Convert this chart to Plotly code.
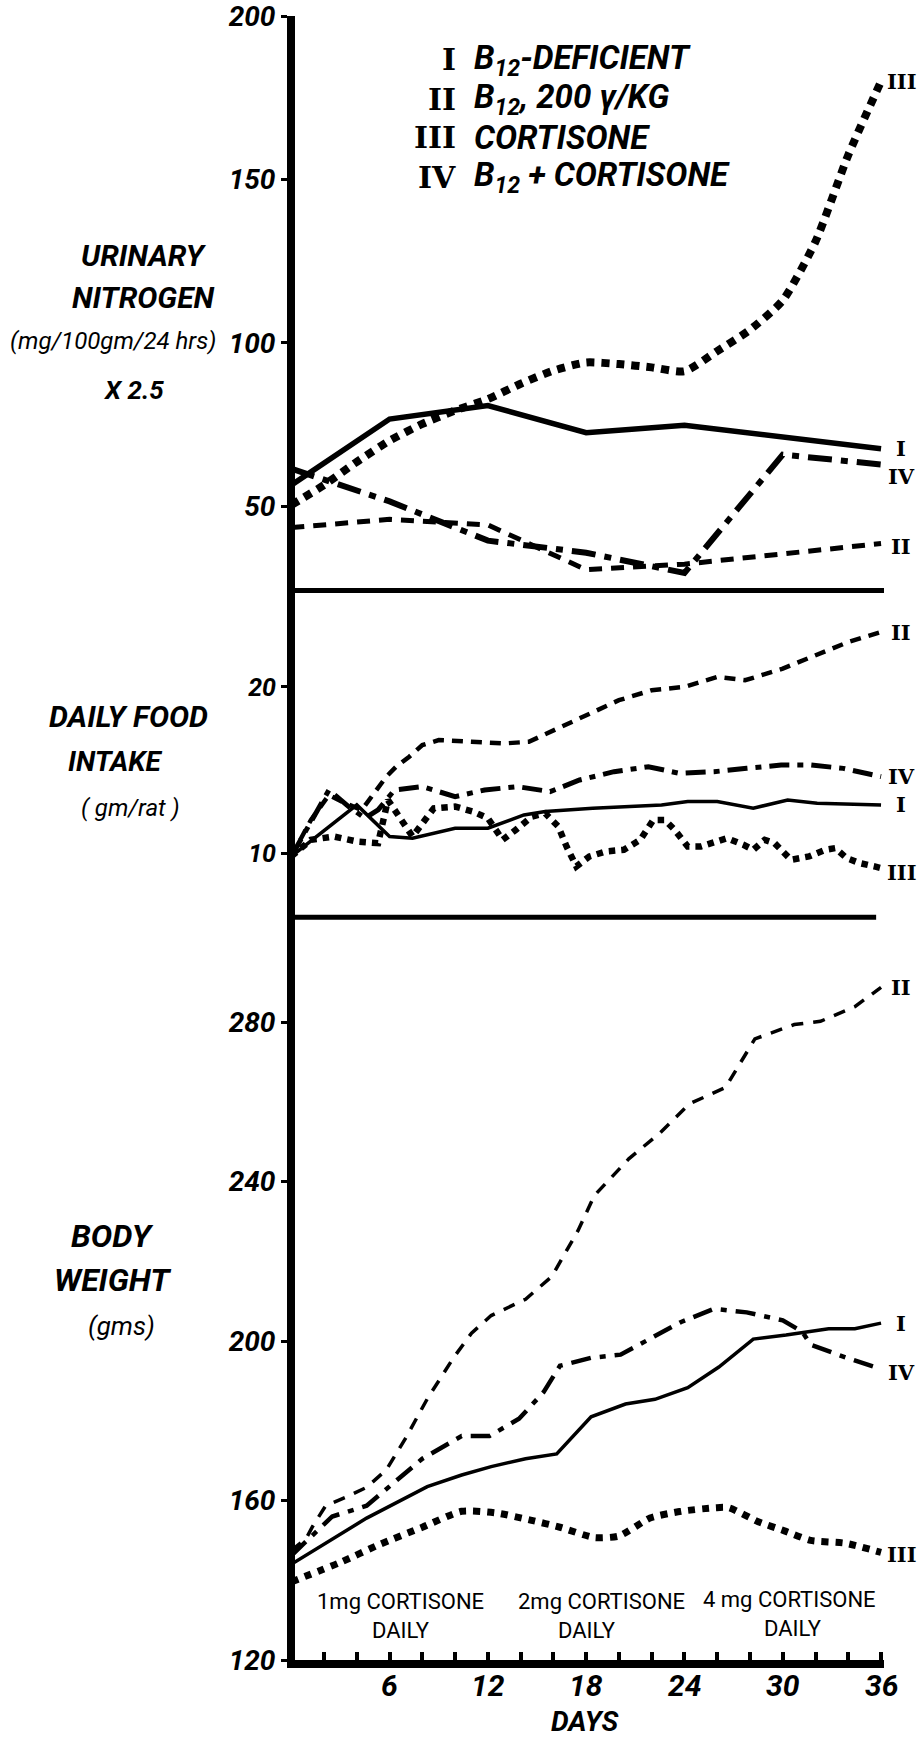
import plotly.graph_objects as go

# ---------------- data ----------------
# Urinary nitrogen (mg/100 gm/24 hrs x 2.5)
nit_days = [0, 6, 12, 18, 24, 30, 36]
nit_I = [56.5, 76.7, 80.8, 72.5, 74.8, 71.2, 67.6]
nit_II = [43.5, 46.0, 44.3, 30.6, 32.3, 35.3, 38.6]
nit_IV = [61.5, 51.5, 39.5, 35.8, 29.6, 65.8, 62.8]
nit_III_days = [0, 2, 4, 6, 8, 10, 12, 14, 16, 18, 20, 22, 24, 26, 28, 30, 32, 34, 36]
nit_III = [50.4, 56.5, 63.6, 70.1, 75.2, 79.3, 82.8, 87.5, 91.5, 94.0, 93.5, 92.5,
           91.3, 97.5, 104.0, 113.0, 131.0, 157.5, 180.0]

# Daily food intake (gm/rat)
food_I_days = [0, 4, 6, 7.4, 10, 12, 14.2, 15.5, 18.4, 22.6, 24.2, 26, 28.2, 30.3, 32.1, 36]
food_I = [9.8, 12.9, 11.0, 10.9, 11.5, 11.5, 12.3, 12.5, 12.7, 12.9, 13.1, 13.1, 12.7, 13.2, 13.0, 12.9]
food_II_days = [0, 1.2, 2.3, 3.3, 4.3, 5.2, 5.8, 6.4, 7.2, 8.0, 9, 11, 13, 14.5, 16, 18, 20,
                22, 24, 26, 27.7, 30, 32, 34, 36]
food_II = [9.8, 12.0, 13.5, 13.0, 12.6, 13.8, 14.6, 15.2, 15.8, 16.5, 16.8, 16.7, 16.6, 16.7,
           17.4, 18.3, 19.2, 19.8, 20.0, 20.6, 20.4, 21.1, 21.9, 22.7, 23.3]
food_III_days = [0, 1.2, 2.6, 4, 5.3, 5.9, 7.4, 8.7, 10, 11.1, 12, 12.9, 13.7, 14.7, 15.5, 16.3,
                 16.8, 17.4, 18.2, 19.2, 20.3, 21.3, 22.1, 22.8, 23.4, 24.2, 25, 25.8, 26.6, 27.6,
                 28.2, 28.9, 29.5, 30.5, 31.6, 32.6, 33.2, 33.9, 34.7, 35.6, 36]
food_III = [9.8, 10.8, 11.0, 10.7, 10.6, 13.2, 11.0, 12.7, 12.8, 12.5, 12.1, 10.8, 11.4, 12.2,
            12.4, 11.6, 10.4, 9.2, 9.8, 10.1, 10.2, 10.8, 12.0, 12.0, 11.4, 10.4, 10.4, 10.6,
            10.9, 10.5, 10.2, 10.8, 10.6, 9.6, 9.8, 10.2, 10.3, 9.7, 9.4, 9.2, 9.1]
food_IV_days = [0, 1, 2.3, 3.5, 4.5, 5.3, 6.3, 8, 10, 11.8, 13.8, 15.8, 17.6, 19.7, 21.8, 23.7,
                25.8, 27.8, 29.9, 31.7, 33.7, 36]
food_IV = [9.8, 11.5, 13.8, 12.8, 12.1, 12.6, 13.8, 14.0, 13.4, 13.8, 14.0, 13.7, 14.4, 14.9,
           15.2, 14.8, 14.9, 15.1, 15.3, 15.3, 15.1, 14.6]

# Body weight (gms)
wt_I_days = [0, 4.6, 8.3, 10.4, 12.2, 14.3, 16.2, 18.3, 20.4, 22.2, 24.2, 26.1, 28.2, 30.2, 32.8, 34.4, 36]
wt_I = [144.0, 155.6, 163.5, 166.4, 168.5, 170.5, 171.7, 181.0, 184.2, 185.4, 188.3, 193.5,
        200.5, 201.5, 203.1, 203.1, 204.5]
wt_II_days = [0, 0.9, 1.3, 2.1, 3.3, 4.6, 5.8, 7.0, 8.3, 9.9, 11.0, 12.2, 14.3, 15.9, 17.5, 18.5,
              20.6, 22.5, 24.3, 26.5, 28.3, 30.7, 32.3, 34.4, 36]
wt_II = [147.5, 150.4, 153.5, 158.7, 160.8, 163.3, 167.7, 175.8, 185.5, 195.8, 202.0, 206.4,
         210.5, 216.2, 227.7, 236.5, 245.7, 252.2, 259.5, 263.6, 275.8, 279.4, 280.2, 283.9, 288.7]
wt_III_days = [0, 3, 5.4, 8, 10.4, 12.5, 14.6, 16.4, 18.5, 20, 21.9, 23.8, 25.9, 26.7, 28.5,
               30.1, 31.7, 33.8, 36]
wt_III = [139.6, 144.5, 149.0, 153.3, 157.3, 156.9, 155.1, 153.3, 150.7, 151.1, 155.6, 157.3,
          158.2, 158.2, 154.7, 152.4, 150.0, 149.3, 147.0]
wt_IV_days = [0, 2.5, 4.6, 6.4, 8.0, 10.4, 12.1, 13.9, 15.4, 16.4, 18.3, 20.1, 22, 23.8, 25.8,
              27.8, 30, 31.2, 31.7, 33.9, 36]
wt_IV = [146.2, 156.0, 158.7, 164.8, 170.5, 176.2, 176.2, 180.5, 187.2, 193.8, 195.8, 196.6,
         200.7, 204.8, 208.1, 207.2, 205.2, 202.3, 199.1, 195.8, 193.0]

day_ticks = [6, 12, 18, 24, 30, 36]
nit_ticks = [50, 100, 150, 200]
food_ticks = [10, 20]
wt_ticks = [120, 160, 200, 240, 280]

legend_rows = [("I", "B<sub>12</sub>-DEFICIENT"),
               ("II", "B<sub>12</sub>, 200 γ/KG"),
               ("III", "CORTISONE"),
               ("IV", "B<sub>12</sub> + CORTISONE")]

# ---------------- page geometry ----------------
FW, FH = 924, 1738
L, R, T, B = 295, 884, 16, 1660


def px(x):
    return (x - L) / (R - L)


def py(y):
    return (B - y) / (B - T)


D1 = py(917.3)   # body weight / food intake boundary
D2 = py(590.5)   # food intake / nitrogen boundary

FONT = "Roboto, 'Open Sans', sans-serif"
NUM_FONT = "'DejaVu Serif', serif"

fig = go.Figure()


def add_line(x, y, panel, width, dash, shape="linear"):
    xa = "x" if panel == 1 else "x%d" % panel
    ya = "y" if panel == 1 else "y%d" % panel
    line = dict(color="black", width=width, dash=dash, shape=shape)
    if shape == "spline":
        line["smoothing"] = 0.6
    fig.add_trace(go.Scatter(x=x, y=y, xaxis=xa, yaxis=ya, mode="lines", line=line,
                             hoverinfo="skip", showlegend=False))


# nitrogen panel (top)
add_line(nit_days, nit_I, 3, 5.5, "solid")
add_line(nit_days, nit_II, 3, 5, "13px,9px")
add_line(nit_III_days, nit_III, 3, 8, "8px,7px", "spline")
add_line(nit_days, nit_IV, 3, 6, "24px,9px,7px,9px")

# food intake panel (middle)
add_line(food_I_days, food_I, 2, 3.5, "solid")
add_line(food_II_days, food_II, 2, 4.5, "11px,8px")
add_line(food_III_days, food_III, 2, 6.5, "6.5px,6px")
add_line(food_IV_days, food_IV, 2, 5, "20px,8px,6px,8px")

# body weight panel (bottom)
add_line(wt_I_days, wt_I, 1, 3.5, "solid")
add_line(wt_II_days, wt_II, 1, 3.5, "12px,10px")
add_line(wt_III_days, wt_III, 1, 7, "7px,7px", "spline")
add_line(wt_IV_days, wt_IV, 1, 4.5, "20px,9px,6px,9px")

tick_font = dict(family=FONT, size=28, color="black", weight="bold", style="italic")
y_common = dict(showline=True, linecolor="black", linewidth=8, ticks="outside", ticklen=6,
                tickwidth=3, tickcolor="black", showgrid=False, zeroline=False,
                ticklabelstandoff=0, ticklabeloverflow="allow", tickfont=tick_font)

fig.update_layout(
    width=FW, height=FH, template="none",
    margin=dict(l=L, r=FW - R, t=T, b=FH - B, pad=0),
    paper_bgcolor="white", plot_bgcolor="white", showlegend=False,
    xaxis=dict(domain=[0, 1], anchor="y", range=[0.226, 36.18], showline=True,
               linecolor="black", linewidth=8, ticks="inside", ticklen=8, tickwidth=3.5,
               tickcolor="black", tickvals=day_ticks, showticklabels=False,
               minor=dict(dtick=2, tick0=0, ticks="inside", ticklen=8, tickwidth=3.5,
                          tickcolor="black", showgrid=False),
               showgrid=False, zeroline=False),
    xaxis2=dict(anchor="y2", matches="x", visible=False),
    xaxis3=dict(anchor="y3", matches="x", visible=False),
    yaxis=dict(domain=[0, D1], range=[120, 306.3], tickvals=wt_ticks, **y_common),
    yaxis2=dict(domain=[D1, D2], range=[6.14, 25.8], tickvals=food_ticks, **y_common),
    yaxis3=dict(domain=[D2, 1], range=[24.24, 200], tickvals=nit_ticks, **y_common),
)
fig.update_layout(yaxis2_tickfont_size=25)

# panel separators
fig.add_shape(type="line", xref="x", yref="paper", x0=0, x1=36.18, y0=D2, y1=D2,
              line=dict(color="black", width=5))
fig.add_shape(type="line", xref="x", yref="paper", x0=0, x1=35.7, y0=D1, y1=D1,
              line=dict(color="black", width=5))

ann = []


def text(x, y, s, size, weight="normal", style="normal", xanchor="center", family=FONT):
    ann.append(dict(xref="paper", yref="paper", x=px(x), y=py(y), text=s, showarrow=False,
                    xanchor=xanchor, yanchor="middle",
                    font=dict(family=family, size=size, color="black", weight=weight, style=style)))


# day labels under the x axis
for d in day_ticks:
    ann.append(dict(xref="x", yref="paper", x=d, y=py(1685), text=str(d), showarrow=False,
                    xanchor="center", yanchor="middle",
                    font=dict(family=FONT, size=30, color="black", weight="bold", style="italic")))

# legend block
for i, (num, label) in enumerate(legend_rows):
    yy = 60 + i * 39
    text(458, yy, num, 30, "bold", "normal", "right", NUM_FONT)
    text(472, yy, label, 33, "bold", "italic", "left")

# left-hand titles
text(144, 255, "URINARY", 30, "bold", "italic")
text(143, 297, "NITROGEN", 30, "bold", "italic")
text(8, 341, "(mg/100gm/24 hrs)", 24, "normal", "italic", "left")
text(133, 390, "X 2.5", 26, "bold", "italic")
text(128, 716, "DAILY FOOD", 30, "bold", "italic")
text(115, 762, "INTAKE", 28, "bold", "italic")
text(130, 808, "( gm/rat )", 24, "normal", "italic")
text(112, 1236, "BODY", 32, "bold", "italic")
text(112, 1280, "WEIGHT", 32, "bold", "italic")
text(121, 1326, "(gms)", 26, "normal", "italic")

# dosing notes
text(400, 1601, "1mg CORTISONE", 22)
text(401, 1630, "DAILY", 22)
text(601, 1601, "2mg CORTISONE", 22)
text(587, 1630, "DAILY", 22)
text(789, 1599, "4 mg CORTISONE", 22)
text(793, 1628, "DAILY", 22)

text(584, 1721, "DAYS", 28, "bold", "italic")

# series end labels
end_labels = [
    ("y3", "III", nit_III[-1], 0), ("y3", "I", nit_I[-1], 0),
    ("y3", "IV", nit_IV[-1], -12), ("y3", "II", nit_II[-1], -3),
    ("y2", "II", food_II[-1], 0), ("y2", "IV", food_IV[-1], 0),
    ("y2", "I", food_I[-1], 0), ("y2", "III", food_III[-1], -4),
    ("y", "II", wt_II[-1], 0), ("y", "I", wt_I[-1], 0),
    ("y", "IV", wt_IV[-1], -4), ("y", "III", wt_III[-1], -2),
]
for yref, s, val, shift in end_labels:
    ann.append(dict(xref="paper", yref=yref, x=px(901), y=val, yshift=shift, text=s,
                    showarrow=False, xanchor="center", yanchor="middle",
                    font=dict(family=NUM_FONT, size=21, color="black", weight="bold")))

fig.update_layout(annotations=ann)
fig.write_html("out.html")
